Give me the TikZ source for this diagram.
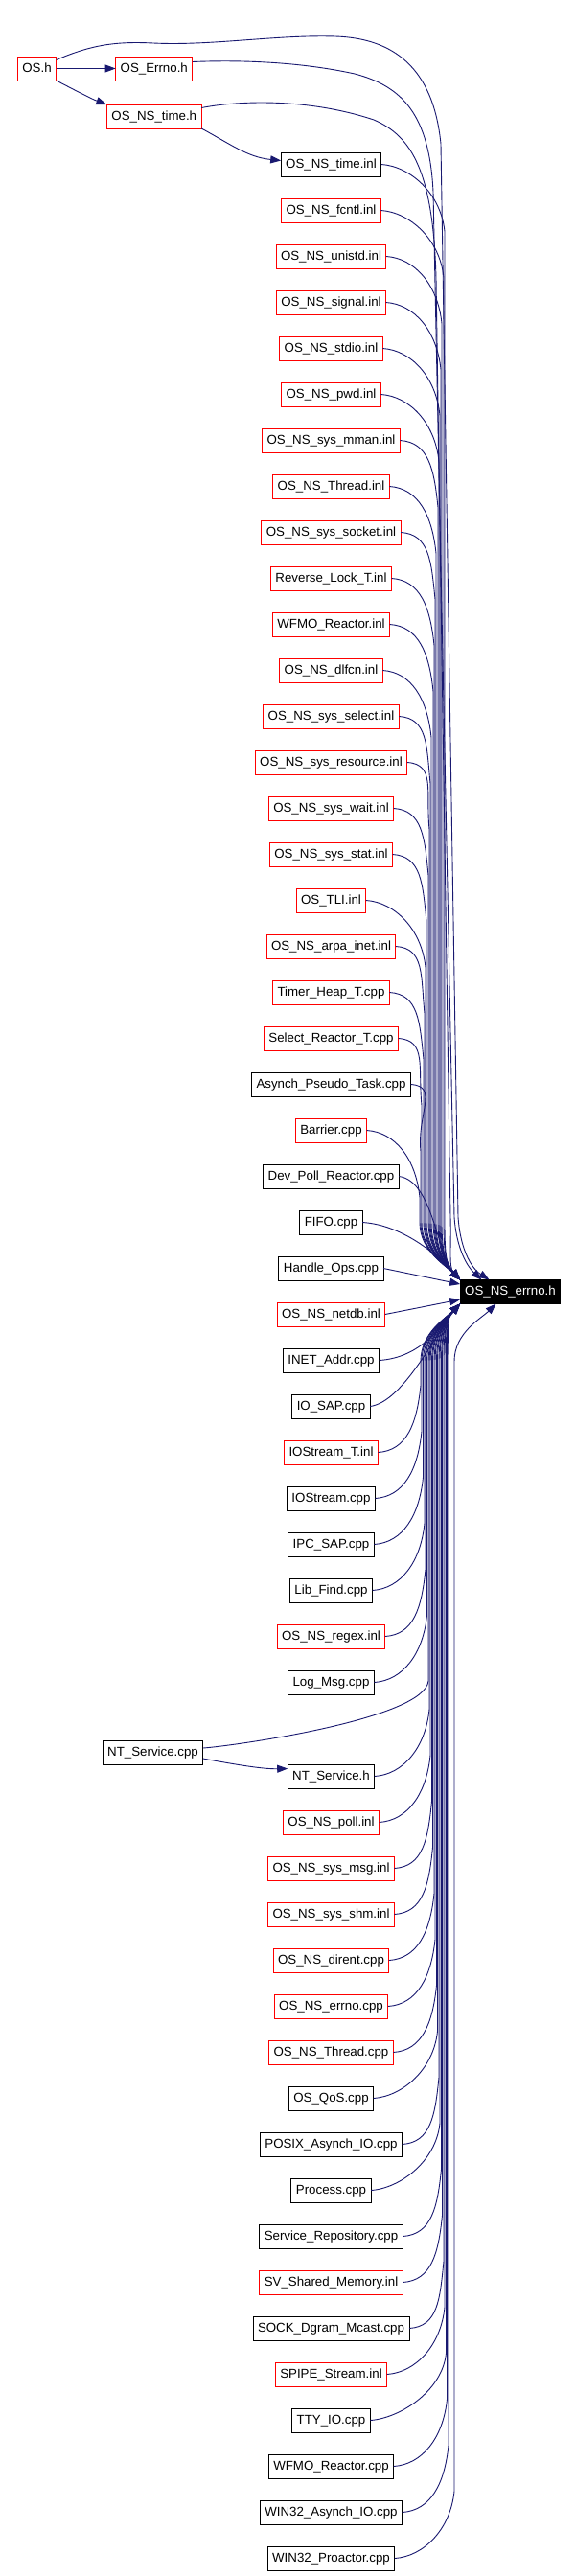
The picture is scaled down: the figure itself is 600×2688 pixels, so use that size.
\documentclass[tikz,border=0pt]{standalone}
\usepackage{fontspec}
\setmainfont{Liberation Sans}
\usetikzlibrary{positioning,arrows.meta,calc}
\definecolor{edgeblue}{RGB}{25,25,112}

\begin{document}
\begin{tikzpicture}[x=1pt,y=1pt,node distance=23pt,
box/.style={draw,line width=1pt,minimum height=25pt,inner xsep=5pt,inner ysep=0pt,outer sep=0pt,text height=10pt,text depth=3pt,font=\fontsize{13.3}{15}\selectfont},
rbox/.style={box,draw=red},
focus/.style={box,fill=black,text=white},
arr/.style={draw=edgeblue,line width=0.9pt,-{Triangle[length=11pt,width=8pt]}},
upto/.style={arr,to path={let \p1=(\tikztostart),\p2=(\tikztotarget) in .. controls +(30pt,-2pt) and +(-4pt,40pt) .. ({#1pt},{\y1-70pt}) -- ({#1pt},{\y2+60pt}) .. controls +(0pt,-30pt) and +(-15pt,15pt) .. (\tikztotarget)}},
dnto/.style={arr,to path={let \p1=(\tikztostart),\p2=(\tikztotarget) in .. controls +(30pt,2pt) and +(-4pt,-40pt) .. ({#1pt},{\y1+70pt}) -- ({#1pt},{\y2-60pt}) .. controls +(0pt,30pt) and +(-15pt,-15pt) .. (\tikztotarget)}}]
\path[use as bounding box,fill=white] (0,0) rectangle (600,-2688);
% top headers
\node[rbox] (osh) at (38.5,-71.5) {OS.h};
\node[rbox,right=62pt of osh] (oserrnoh) {OS\_Errno.h};
\node[rbox,below=25pt of oserrnoh] (nstimeh) {OS\_NS\_time.h};
% middle column
\node[box] (nstimeinl) at (345.5,-171.5) {OS\_NS\_time.inl};
\node[rbox,below=of nstimeinl] (fcntl) {OS\_NS\_fcntl.inl};
\node[rbox,below=of fcntl] (unistd) {OS\_NS\_unistd.inl};
\node[rbox,below=of unistd] (signal) {OS\_NS\_signal.inl};
\node[rbox,below=of signal] (stdio) {OS\_NS\_stdio.inl};
\node[rbox,below=of stdio] (pwd) {OS\_NS\_pwd.inl};
\node[rbox,below=of pwd] (sysmman) {OS\_NS\_sys\_mman.inl};
\node[rbox,below=of sysmman] (threadinl) {OS\_NS\_Thread.inl};
\node[rbox,below=of threadinl] (syssocket) {OS\_NS\_sys\_socket.inl};
\node[rbox,below=of syssocket] (reverselock) {Reverse\_Lock\_T.inl};
\node[rbox,below=of reverselock] (wfmoinl) {WFMO\_Reactor.inl};
\node[rbox,below=of wfmoinl] (dlfcn) {OS\_NS\_dlfcn.inl};
\node[rbox,below=of dlfcn] (sysselect) {OS\_NS\_sys\_select.inl};
\node[rbox,below=of sysselect] (sysresource) {OS\_NS\_sys\_resource.inl};
\node[rbox,below=of sysresource] (syswait) {OS\_NS\_sys\_wait.inl};
\node[rbox,below=of syswait] (sysstat) {OS\_NS\_sys\_stat.inl};
\node[rbox,below=of sysstat] (tli) {OS\_TLI.inl};
\node[rbox,below=of tli] (arpainet) {OS\_NS\_arpa\_inet.inl};
\node[rbox,below=of arpainet] (timerheap) {Timer\_Heap\_T.cpp};
\node[rbox,below=of timerheap] (selectreactor) {Select\_Reactor\_T.cpp};
\node[box,below=of selectreactor] (asynchpseudo) {Asynch\_Pseudo\_Task.cpp};
\node[rbox,below=of asynchpseudo] (barrier) {Barrier.cpp};
\node[box,below=of barrier] (devpoll) {Dev\_Poll\_Reactor.cpp};
\node[box,below=of devpoll] (fifo) {FIFO.cpp};
\node[box,below=of fifo] (handleops) {Handle\_Ops.cpp};
\node[rbox,below=of handleops] (netdb) {OS\_NS\_netdb.inl};
\node[box,below=of netdb] (inetaddr) {INET\_Addr.cpp};
\node[box,below=of inetaddr] (iosap) {IO\_SAP.cpp};
\node[rbox,below=of iosap] (iostreamt) {IOStream\_T.inl};
\node[box,below=of iostreamt] (iostream) {IOStream.cpp};
\node[box,below=of iostream] (ipcsap) {IPC\_SAP.cpp};
\node[box,below=of ipcsap] (libfind) {Lib\_Find.cpp};
\node[rbox,below=of libfind] (regex) {OS\_NS\_regex.inl};
\node[box,below=of regex] (logmsg) {Log\_Msg.cpp};
\node[box,below=73pt of logmsg] (ntserviceh) {NT\_Service.h};
\node[rbox,below=of ntserviceh] (poll) {OS\_NS\_poll.inl};
\node[rbox,below=of poll] (sysmsg) {OS\_NS\_sys\_msg.inl};
\node[rbox,below=of sysmsg] (sysshm) {OS\_NS\_sys\_shm.inl};
\node[rbox,below=of sysshm] (dirent) {OS\_NS\_dirent.cpp};
\node[rbox,below=of dirent] (nserrnocpp) {OS\_NS\_errno.cpp};
\node[rbox,below=of nserrnocpp] (threadcpp) {OS\_NS\_Thread.cpp};
\node[box,below=of threadcpp] (qos) {OS\_QoS.cpp};
\node[box,below=of qos] (posixaio) {POSIX\_Asynch\_IO.cpp};
\node[box,below=of posixaio] (process) {Process.cpp};
\node[box,below=of process] (svcrepo) {Service\_Repository.cpp};
\node[rbox,below=of svcrepo] (svshm) {SV\_Shared\_Memory.inl};
\node[box,below=of svshm] (sockmcast) {SOCK\_Dgram\_Mcast.cpp};
\node[rbox,below=of sockmcast] (spipe) {SPIPE\_Stream.inl};
\node[box,below=of spipe] (ttyio) {TTY\_IO.cpp};
\node[box,below=of ttyio] (wfmocpp) {WFMO\_Reactor.cpp};
\node[box,below=of wfmocpp] (win32aio) {WIN32\_Asynch\_IO.cpp};
\node[box,below=of win32aio] (win32proactor) {WIN32\_Proactor.cpp};
% left one and the target
\node[box] (ntservicecpp) at (159.5,-1829) {NT\_Service.cpp};
\node[focus] (nserrnoh) at (532.5,-1348) {OS\_NS\_errno.h};
% edges between headers
\draw[arr] (osh.east) -- (oserrnoh.west);
\draw[arr] (osh.south east) .. controls (80,-95) and (95,-103) .. (nstimeh.north west);
\draw[arr] (nstimeh.south east) .. controls (240,-150) and (258,-164) .. ([yshift=4pt]nstimeinl.west);
\draw[arr] ([yshift=-6pt]ntservicecpp.east) .. controls (250,-1842) and (275,-1846) .. ([yshift=8pt]ntserviceh.west);
% long ones from the top
\draw[arr] ([yshift=9pt]osh.east) .. controls (95,-47) and (120,-43) .. (160,-45) .. controls (220,-48) and (290,-36) .. (350,-38) .. controls (410,-40) and (452,-70) .. (460,-150) -- (478,-1270) .. controls (480,-1300) and (490,-1322) .. ([xshift=-22pt]nserrnoh.north);
\draw[arr] ([yshift=7pt]oserrnoh.east) .. controls (260,-62) and (320,-66) .. (370,-77) .. controls (420,-90) and (448,-120) .. (452,-200) -- (474,-1270) .. controls (476,-1300) and (486,-1320) .. ([xshift=-30pt]nserrnoh.north);
\draw[arr] ([yshift=9pt]nstimeh.east) .. controls (260,-103) and (330,-105) .. (390,-125) .. controls (430,-142) and (452,-180) .. (455,-290) -- (470,-1270) .. controls (471,-1300) and (468,-1322) .. (nserrnoh.north west);
% into OS_NS_errno.h from above
\draw[upto=464] (nstimeinl.east) to (nserrnoh.north west);
\draw[upto=463] (fcntl.east) to (nserrnoh.north west);
\draw[upto=461] (unistd.east) to (nserrnoh.north west);
\draw[upto=460] (signal.east) to (nserrnoh.north west);
\draw[upto=459] (stdio.east) to (nserrnoh.north west);
\draw[upto=458] (pwd.east) to (nserrnoh.north west);
\draw[upto=457] (sysmman.east) to (nserrnoh.north west);
\draw[upto=455] (threadinl.east) to (nserrnoh.north west);
\draw[upto=454] (syssocket.east) to (nserrnoh.north west);
\draw[upto=453] (reverselock.east) to (nserrnoh.north west);
\draw[upto=452] (wfmoinl.east) to (nserrnoh.north west);
\draw[upto=450] (dlfcn.east) to (nserrnoh.north west);
\draw[upto=449] (sysselect.east) to (nserrnoh.north west);
\draw[upto=448] (sysresource.east) to (nserrnoh.north west);
\draw[upto=447] (syswait.east) to (nserrnoh.north west);
\draw[upto=445] (sysstat.east) to (nserrnoh.north west);
\draw[upto=444] (tli.east) to (nserrnoh.north west);
\draw[upto=443] (arpainet.east) to (nserrnoh.north west);
\draw[upto=442] (timerheap.east) to (nserrnoh.north west);
\draw[upto=440] (selectreactor.east) to (nserrnoh.north west);
\draw[upto=439] (asynchpseudo.east) to (nserrnoh.north west);
\draw[upto=438] (barrier.east) to (nserrnoh.north west);
\draw[arr] (devpoll.east) .. controls +(35pt,-5pt) and +(-25pt,30pt) .. (nserrnoh.north west);
\draw[arr] (fifo.east) .. controls +(45pt,-3pt) and +(-20pt,22pt) .. (nserrnoh.north west);
\draw[arr] (handleops.east) -- ([yshift=8pt]nserrnoh.west);
% into OS_NS_errno.h from below
\draw[arr] (netdb.east) -- ([yshift=-8pt]nserrnoh.west);
\draw[arr] (inetaddr.east) .. controls +(45pt,3pt) and +(-20pt,-22pt) .. (nserrnoh.south west);
\draw[arr] (iosap.east) .. controls +(35pt,5pt) and +(-25pt,-30pt) .. (nserrnoh.south west);
\draw[dnto=439] (iostreamt.east) to (nserrnoh.south west);
\draw[dnto=440] (iostream.east) to (nserrnoh.south west);
\draw[dnto=441.5] (ipcsap.east) to (nserrnoh.south west);
\draw[dnto=443] (libfind.east) to (nserrnoh.south west);
\draw[dnto=444] (regex.east) to (nserrnoh.south west);
\draw[dnto=445.5] (logmsg.east) to (nserrnoh.south west);
\draw[dnto=447] ([yshift=5pt]ntservicecpp.east) to (nserrnoh.south west);
\draw[dnto=448] (ntserviceh.east) to (nserrnoh.south west);
\draw[dnto=449] (poll.east) to (nserrnoh.south west);
\draw[dnto=450.5] (sysmsg.east) to (nserrnoh.south west);
\draw[dnto=451.5] (sysshm.east) to (nserrnoh.south west);
\draw[dnto=453] (dirent.east) to (nserrnoh.south west);
\draw[dnto=454] (nserrnocpp.east) to (nserrnoh.south west);
\draw[dnto=455.5] (threadcpp.east) to (nserrnoh.south west);
\draw[dnto=456.5] (qos.east) to (nserrnoh.south west);
\draw[dnto=458] (posixaio.east) to (nserrnoh.south west);
\draw[dnto=459] (process.east) to (nserrnoh.south west);
\draw[dnto=460.5] (svcrepo.east) to (nserrnoh.south west);
\draw[dnto=461.5] (svshm.east) to (nserrnoh.south west);
\draw[dnto=463] (sockmcast.east) to (nserrnoh.south west);
\draw[dnto=464] (spipe.east) to (nserrnoh.south west);
\draw[dnto=465.5] (ttyio.east) to (nserrnoh.south west);
\draw[dnto=466.5] (wfmocpp.east) to (nserrnoh.south west);
\draw[dnto=468] (win32aio.east) to (nserrnoh.south west);
\draw[dnto=474] (win32proactor.east) to ([xshift=-15pt]nserrnoh.south);
\end{tikzpicture}
\end{document}
